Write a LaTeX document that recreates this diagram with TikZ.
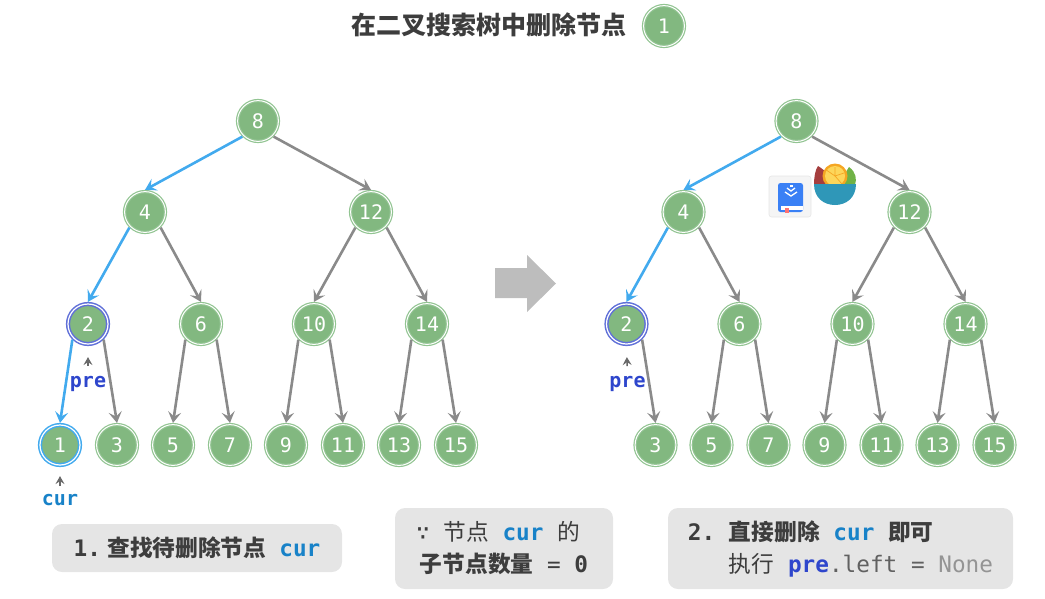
\documentclass[tikz,border=0pt]{standalone}
\usepackage{fontspec}
\setmonofont{DejaVu Sans Mono}
\newfontfamily\cjk{Noto Sans CJK SC}
\usetikzlibrary{arrows.meta,positioning,calc}
\definecolor{leaf}{RGB}{130,184,128}
\definecolor{leafring}{RGB}{146,196,146}
\definecolor{sky}{RGB}{66,170,238}
\definecolor{violet}{RGB}{96,112,216}
\definecolor{edgegray}{RGB}{138,138,138}
\definecolor{tipgray}{RGB}{105,105,105}
\definecolor{panel}{RGB}{229,229,229}
\definecolor{ink}{RGB}{61,61,61}
\definecolor{curblue}{RGB}{24,130,200}
\definecolor{preblue}{RGB}{46,70,204}
\definecolor{bookblue}{RGB}{58,128,245}
\definecolor{bowlteal}{RGB}{47,151,184}
\definecolor{melon}{RGB}{165,62,62}
\definecolor{basil}{RGB}{112,178,70}
\definecolor{peel}{RGB}{245,166,35}
\definecolor{pulp}{RGB}{253,214,90}
\tikzset{
    treenode/.style={circle, minimum size=40.8pt, inner sep=0pt, outer sep=1.7pt, fill=leaf,
        draw=leafring, line width=1.2pt, double=white, double distance=1pt,
        text=white, font=\ttfamily\fontsize{20}{20}\selectfont},
    curnode/.style={treenode, minimum size=40pt, draw=sky, line width=1.5pt, double distance=1.2pt, outer sep=2.1pt},
    prenode/.style={treenode, minimum size=40pt, draw=violet, line width=1.5pt, double distance=1.2pt, outer sep=2.1pt},
    edge/.style={draw=edgegray, line width=2.6pt, -{Stealth[length=11pt, width=13pt, inset=4.5pt]}},
    onpath/.style={edge, draw=sky},
    pointer/.style={draw=tipgray, line width=1.5pt, -{Stealth[length=8pt, width=9pt, inset=3pt]}},
    panelbox/.style={fill=panel, rounded corners=10pt, inner sep=0pt, text=ink},
    varname/.style={inner sep=0pt, font=\ttfamily\bfseries\fontsize{20}{20}\selectfont},
}
\newcommand{\curtext}{\textcolor{curblue}{\bfseries cur}}
\newcommand{\pretext}{\textcolor{preblue}{\bfseries pre}}
\begin{document}
\begin{tikzpicture}[x=1pt, y=-1pt, >=Stealth]
    \useasboundingbox (0,0) rectangle (1045,598);

    % Heading
    \node[inner sep=0pt, text=ink, font=\cjk\bfseries\fontsize{25}{25}\selectfont] (title) at (489,25) {在二叉搜索树中删除节点};
    \node[treenode] (target) at (664,26) {1};

    % (left) Search for the node
    \begin{scope}[name prefix=a-]
        \foreach \i/\x/\y in {8/258/121, 4/145/212, 12/371/212, 6/201/324, 10/314/324, 14/427/324,
                3/117/445, 5/173/445, 7/230/445, 9/286/445, 11/343/445, 13/399/445, 15/456/445} {
            \node[treenode] (\i) at (\x,\y) {\i};
        }
        \node[prenode] (2) at (88,324) {2};
        \node[curnode] (1) at (60,445) {1};

        \foreach \p/\c/\s in {8/12/south east, 4/6/south east, 2/3/south east, 6/5/south west,
                6/7/south east, 12/10/south west, 12/14/south east, 10/9/south west, 10/11/south east,
                14/13/south west, 14/15/south east} {
            \draw[edge] (\p.\s) -- (\c.north);
        }
        \foreach \p/\c in {8/4, 4/2, 2/1} {
            \draw[onpath] (\p.south west) -- (\c.north);
        }

        \node[varname, text=preblue] (pre) at (88,384) {pre};
        \draw[pointer, shorten >=11pt, shorten <=10pt] (pre.north) -- (2.south);
        \node[varname, text=curblue] (cur) at (60,500) {cur};
        \draw[pointer, shorten >=9pt, shorten <=8pt] (cur.north) -- (1.south);

        \node[panelbox, minimum width=290pt, minimum height=48pt,
            font=\ttfamily\bfseries\fontsize{22.7}{22.7}\selectfont] (stepone) at (197,548) {1.\hspace{6.5pt}{\cjk 查找待删除节点}\hspace{13pt}\curtext};
    \end{scope}

    % Block arrow between the two trees
    \fill[black!26] (495,268) -- (527,268) -- (527,255) -- (556,283.5) -- (527,312) -- (527,298) -- (495,298) -- cycle;

    % (right) Tree after the removal
    \begin{scope}[shift={(538.5,0)}, name prefix=b-]
        \foreach \i/\x/\y in {8/258/121, 4/145/212, 12/371/212, 6/201/324, 10/314/324, 14/427/324,
                3/117/445, 5/173/445, 7/230/445, 9/286/445, 11/343/445, 13/399/445, 15/456/445} {
            \node[treenode] (\i) at (\x,\y) {\i};
        }
        \node[prenode] (2) at (88,324) {2};

        \foreach \p/\c/\s in {8/12/south east, 4/6/south east, 2/3/south east, 6/5/south west,
                6/7/south east, 12/10/south west, 12/14/south east, 10/9/south west, 10/11/south east,
                14/13/south west, 14/15/south east} {
            \draw[edge] (\p.\s) -- (\c.north);
        }
        \foreach \p/\c in {8/4, 4/2} {
            \draw[onpath] (\p.south west) -- (\c.north);
        }

        \node[varname, text=preblue] (pre) at (89,384) {pre};
        \draw[pointer, shorten >=11pt, shorten <=10pt] (pre.north) -- (2.south);
    \end{scope}

    % Book badge
    \draw[fill=blue!2!gray!8, draw=gray!20, rounded corners=2.5pt, line width=0.6pt] (769,176) rectangle (811,217);
    \fill[bookblue, rounded corners=2.5pt] (778,183) rectangle (803,212);
    \fill[white] (781,205.5) rectangle (803,209.5);
    \fill[red!55] (785,208) rectangle (789,213);
    \draw[white, line width=1.3pt] (785,192) -- (791,196) -- (797,192);
    \draw[white, line width=1.3pt] (787,188) -- (791,191) -- (795,188);
    \fill[white] (789.5,184.5) rectangle (792.5,187);

    % Fruit bowl
    \fill[melon] (818,166) .. controls (825,170) and (832,178) .. (834,185) -- (814,185) .. controls (814,178) and (815,170) .. cycle;
    \fill[basil] (849,167) .. controls (856,172) and (857,179) .. (855,185) -- (844,185) .. controls (844,178) and (845,172) .. cycle;
    \fill[peel] (835,176) circle (12.5pt);
    \fill[pulp] (835,176) circle (10pt);
    \draw[peel, line width=0.7pt] (835,176) -- (835,167) (835,176) -- (844,173) (835,176) -- (827,170.5) (835,176) -- (842,184);
    \fill[bowlteal] (814,184) -- (856,184) .. controls (856,198) and (846,205) .. (835,205) .. controls (824,205) and (814,198) .. cycle;

    % Notes under the trees
    \node[panelbox, minimum width=218pt, minimum height=81pt, align=center,
        font=\ttfamily\fontsize{22.7}{32}\selectfont] (whynote) at (504,548.5) {∵~{\cjk 节点}~\curtext~{\cjk 的}\hspace*{12pt}\\{\bfseries\cjk 子节点数量}~=~{\bfseries 0}};
    \node[panelbox, minimum width=345pt, minimum height=81pt, align=left,
        font=\ttfamily\fontsize{22.7}{32}\selectfont] (steptwo) at (840.5,548.5) {{\bfseries 2.~{\cjk 直接删除}~\curtext~{\cjk 即可}}\\\phantom{2.~}{\cjk 执行}~\pretext{\color{black!62}.left}~{\color{black!62}=}~{\color{black!42}None}};
\end{tikzpicture}
\end{document}
